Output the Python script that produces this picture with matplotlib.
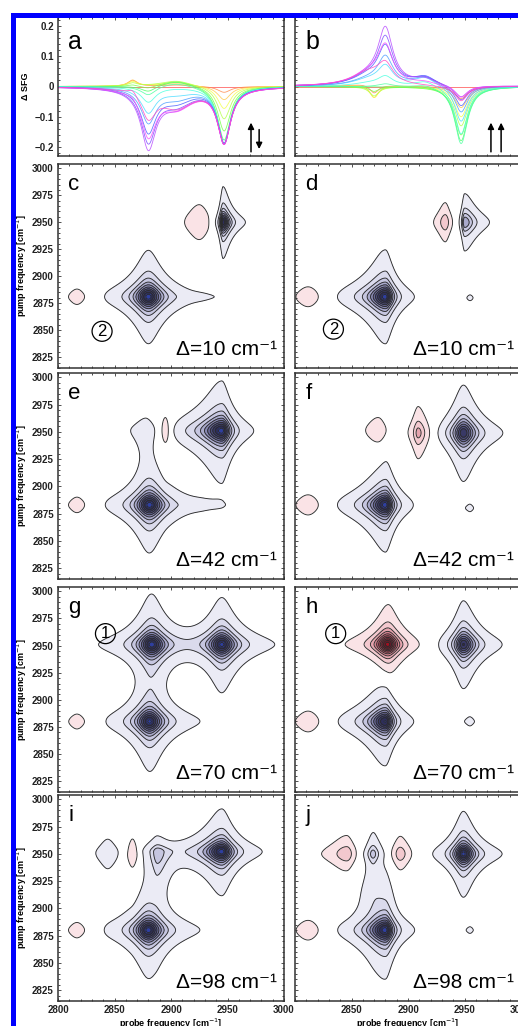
import numpy as np
import matplotlib.pyplot as plt
from matplotlib.patches import Rectangle

plt.rcParams['font.family'] = ['Liberation Sans', 'DejaVu Sans']

# ---------------- top panels: Delta SFG spectra (one curve per pump setting) ----------------
n_curves = 16
# panel a (antiparallel): amplitudes of the spectral components of each curve
a_dip1 = [0, 0, 0, 0, 0, -0.01, -0.02, -0.03, -0.05, -0.08, -0.11, -0.14, -0.17, -0.19, -0.15, -0.09]
a_dip2 = [0, -0.02, -0.045, -0.075, -0.11, -0.15, -0.18, -0.19, -0.19, -0.185, -0.18, -0.18, -0.18, -0.18, -0.18, -0.18]
a_broad = [0, 0.005, 0.01, 0.015, 0.02, 0.02, 0.02, 0.015, 0.0, -0.02, -0.035, -0.045, -0.055, -0.06, -0.065, -0.065]
a_bump = [0, 0.02, 0.02, 0.015, 0.01, 0.005, 0, 0, 0, 0, 0, 0, 0, 0, 0.01, 0.02]
# panel b (parallel)
b_peak1 = [0, 0, 0, 0, 0, 0, 0, 0.01, 0.03, 0.06, 0.09, 0.12, 0.15, 0.18, 0.12, 0.06]
b_dip0 = [0, -0.03, -0.045, -0.04, -0.03, -0.015, 0, 0, 0, 0, 0, 0, 0, 0, 0, 0]
b_broad1 = [0, 0.01, 0.01, 0.005, 0, 0, 0, 0, 0.01, 0.02, 0.02, 0.03, 0.03, 0.03, 0.04, 0.045]
b_broad2 = [0, 0, 0, 0, 0, 0, 0.005, 0.01, 0.02, 0.03, 0.03, 0.03, 0.025, 0.02, 0.01, 0.0]
b_dip2 = [0, -0.04, -0.07, -0.1, -0.13, -0.16, -0.18, -0.19, -0.16, -0.12, -0.09, -0.07, -0.05, -0.04, -0.04, -0.05]

# ---------------- 2D panels: peaks (probe, pump, amplitude, w_left, w_right, w_down, w_up) ----------------
peaks_c = [(2880, 2881, 1.0, 10, 10, 10, 10), (2925, 2881, 0.05, 12, 12, 3, 3),
           (2946, 2950, 0.95, 2.2, 5, 8, 8), (2925, 2950, -0.15, 10, 9, 12, 12),
           (2817, 2881, -0.135, 8, 8, 7, 7)]
peaks_d = [(2880, 2881, 1.0, 12, 6, 10, 10), (2950, 2950, 0.45, 2.1, 8, 9.5, 9.5),
           (2933, 2950, -0.24, 5.5, 4, 9.5, 9.5), (2812, 2881, -0.135, 12, 12, 9, 9),
           (2955, 2880, 0.07, 3, 3, 3, 3)]
peaks_e = [(2881, 2883, 1.0, 10, 10, 10, 10), (2925, 2883, 0.05, 12, 12, 3, 3),
           (2877, 2952, 0.06, 9, 6, 20, 9), (2945, 2951, 1.0, 14, 6.5, 10.5, 10.5),
           (2895, 2951, -0.18, 5, 5, 12, 12), (2817, 2883, -0.135, 8, 8, 7, 7)]
peaks_f = [(2880, 2883, 1.0, 12, 6, 10, 10), (2949, 2949, 0.85, 8, 9, 11, 11),
           (2909, 2949, -0.32, 4.5, 7, 11, 11), (2874, 2951, -0.14, 10, 7, 11, 11),
           (2812, 2883, -0.135, 12, 12, 9, 9), (2955, 2880, 0.07, 3, 3, 3, 3)]
peaks_g = [(2881, 2880, 1.0, 10, 10, 10, 10), (2883, 2951, 1.0, 10, 10, 10, 10),
           (2945, 2951, 1.0, 10, 10, 10, 10), (2817, 2880, -0.135, 8, 8, 7, 7)]
peaks_h = [(2882, 2951, -1.0, 9, 8, 8, 9), (2949, 2951, 0.85, 7, 9, 10, 10),
           (2880, 2880, 0.95, 12, 6, 10, 10), (2812, 2880, -0.135, 12, 12, 9, 9),
           (2955, 2880, 0.08, 3.5, 3.5, 3.5, 3.5)]
peaks_i = [(2945, 2952, 1.0, 12, 8, 9, 9), (2888, 2952, 0.3, 5, 8, 18, 5),
           (2880, 2880, 1.0, 10, 10, 10, 10), (2844, 2950, 0.13, 7, 7, 10, 10),
           (2866, 2950, -0.2, 4.5, 4.5, 10, 10), (2817, 2880, -0.135, 8, 8, 7, 7)]
peaks_j = [(2846, 2950, -0.25, 12, 6, 9, 9), (2869, 2950, 0.3, 4.5, 4.5, 7, 7),
           (2870, 2915, 0.08, 10, 10, 25, 25),
           (2893, 2950, -0.25, 6, 7, 9, 9), (2949, 2950, 1.0, 7, 8, 9, 9),
           (2880, 2880, 1.0, 12, 6, 10, 10), (2812, 2880, -0.135, 12, 12, 9, 9),
           (2955, 2880, 0.07, 3, 3, 3, 3)]
panel_peaks = [peaks_c, peaks_d, peaks_e, peaks_f, peaks_g, peaks_h, peaks_i, peaks_j]
panel_letters = ['c', 'd', 'e', 'f', 'g', 'h', 'i', 'j']
deltas = [10, 10, 42, 42, 70, 70, 98, 98]
circle_marks = {'c': ('2', 2839, 2849), 'd': ('2', 2834, 2851), 'g': ('1', 2842, 2961), 'h': ('1', 2836, 2961)}

pump_ticks = [2825, 2850, 2875, 2900, 2925, 2950, 2975, 3000]
probe_ticks = [2800, 2850, 2900, 2950, 3000]
sfg_ticks = [-0.2, -0.1, 0, 0.1, 0.2]
sfg_ticklabels = ['\u22120.2', '\u22120.1', '0', '0.1', '0.2']


def lor(u, c, w):
    return 1.0 / (1.0 + ((u - c) / w) ** 2)


def split_lor(u, c, wl, wr):
    w = np.where(u < c, wl, wr)
    return 1.0 / (1.0 + ((u - c) / w) ** 2)


W, H = 518, 1026
fig = plt.figure(figsize=(W / 100, H / 100), dpi=100)


def add_ax(left, top, width, height):
    return fig.add_axes([left / W, 1 - (top + height) / H, width / W, height / H])


frame_col = '#333333'
tick_font = dict(fontsize=7, fontweight='bold')


def style_frame(ax):
    for s in ax.spines.values():
        s.set_linewidth(1.1)
        s.set_color(frame_col)
    ax.tick_params(direction='in', length=2.5, width=0.6, top=True, right=True, pad=3,
                   colors=frame_col, labelcolor='#222222')
    ax.tick_params(which='minor', direction='in', length=1.5, width=0.5, top=True, right=True)


# ---------------- top row ----------------
xs = np.linspace(2800, 3000, 600)
hues = plt.cm.hsv(np.linspace(0, 0.9, n_curves))[:, :3] * 0.7 + 0.3
col_left, col_right, col_w = 58, 295, 226

ax_a = add_ax(col_left, 17, col_w, 139)
ax_b = add_ax(col_right, 17, col_w, 139)
for i in range(n_curves):
    ya = (a_dip1[i] * lor(xs, 2880, 8) + a_dip2[i] * lor(xs, 2947, 7)
          + a_broad[i] * lor(xs, 2905, 18) + a_bump[i] * lor(xs, 2866, 5))
    yb = (b_peak1[i] * lor(xs, 2880, 8) + b_dip0[i] * lor(xs, 2870, 5)
          + b_broad1[i] * lor(xs, 2865, 18) + b_broad2[i] * lor(xs, 2915, 12)
          + b_dip2[i] * lor(xs, 2947, 7))
    ax_a.plot(xs, ya, color=hues[i], lw=0.6, alpha=0.85)
    ax_b.plot(xs, yb, color=hues[i], lw=0.6, alpha=0.85)

for ax, letter in [(ax_a, 'a'), (ax_b, 'b')]:
    ax.set_xlim(2800, 3000)
    ax.set_ylim(-0.23, 0.23)
    ax.set_xticks(probe_ticks)
    ax.set_xticklabels([])
    ax.set_yticks(sfg_ticks)
    ax.minorticks_on()
    style_frame(ax)
    ax.text(0.045, 0.82, letter, transform=ax.transAxes, fontsize=18, va='center', ha='left')
ax_a.set_yticklabels(sfg_ticklabels, **tick_font)
ax_b.set_yticklabels([])
ax_a.set_ylabel('\u0394 SFG', fontsize=6.5, fontweight='bold', labelpad=3)

arrow = dict(arrowstyle='-|>', lw=1.1, color='k', mutation_scale=9, shrinkA=0, shrinkB=0)
ax_a.annotate('', xy=(0.854, 0.24), xytext=(0.854, 0.03), xycoords='axes fraction', arrowprops=arrow)
ax_a.annotate('', xy=(0.89, 0.05), xytext=(0.89, 0.19), xycoords='axes fraction', arrowprops=arrow)
ax_b.annotate('', xy=(0.867, 0.24), xytext=(0.867, 0.03), xycoords='axes fraction', arrowprops=arrow)
ax_b.annotate('', xy=(0.912, 0.24), xytext=(0.912, 0.03), xycoords='axes fraction', arrowprops=arrow)

# ---------------- 2D panels ----------------
gx = np.linspace(2795, 3005, 320)
gy = np.linspace(2810, 3010, 320)
PX, PY = np.meshgrid(gx, gy)

lv = np.arange(0.05, 1.0, 0.1)
fill_levels = [-1.2] + list(-lv[::-1]) + list(lv) + [1.2]
pos_cols = ['#ebebf5', '#dadaec', '#c6c6e0', '#a9a9cb', '#8888b2', '#666695',
            '#4b4b7b', '#393966', '#2e2e5a', '#2f3f9f']
neg_cols = ['#fae3e6', '#f3c8ce', '#e6a4ae', '#d47f8d', '#bd5b6c', '#a23f50',
            '#8c2c3d', '#7a2031', '#6e1829', '#a01020']
fill_cols = neg_cols[::-1] + ['white'] + pos_cols
line_levels = list(-lv[::-1]) + list(lv)

row_tops = [164, 373, 587, 795]
row_heights = [204, 206, 205, 206]

for k, peaks in enumerate(panel_peaks):
    row, col = divmod(k, 2)
    left = col_left if col == 0 else col_right
    ax = add_ax(left, row_tops[row], col_w, row_heights[row])
    Z = np.zeros_like(PX)
    for (x0, y0, amp, wl, wr, wd, wu) in peaks:
        Z += amp * split_lor(PX, x0, wl, wr) * split_lor(PY, y0, wd, wu)
    Z = Z / np.abs(Z).max()
    ax.contourf(PX, PY, Z, levels=fill_levels, colors=fill_cols)
    ax.contour(PX, PY, Z, levels=line_levels, colors='#2b2b2b', linewidths=0.65,
               linestyles='solid')
    ax.set_xlim(2800, 3000)
    ax.set_ylim(2815, 3004)
    ax.set_xticks(probe_ticks)
    ax.set_yticks(pump_ticks)
    ax.minorticks_on()
    style_frame(ax)
    letter = panel_letters[k]
    ax.text(0.045, 0.9, letter, transform=ax.transAxes, fontsize=16, va='center', ha='left')
    ax.text(0.97, 0.063, '\u0394=%d cm\u207b\u00b9' % deltas[k], transform=ax.transAxes,
            fontsize=15, ha='right', va='baseline')
    if letter in circle_marks:
        d, cx, cy = circle_marks[letter]
        ax.text(cx, cy, d, fontsize=12, ha='center', va='center',
                bbox=dict(boxstyle='circle,pad=0.15', fc='none', ec='k', lw=0.9))
    if col == 0:
        ax.set_yticklabels([str(t) for t in pump_ticks], **tick_font)
        ax.set_ylabel('pump frequency [cm$^{-1}$]', fontsize=6.5, fontweight='bold', labelpad=2)
    else:
        ax.set_yticklabels([])
    if row == 3:
        if col == 0:
            ax.set_xticklabels([str(t) for t in probe_ticks], **tick_font)
        else:
            ax.set_xticklabels([''] + [str(t) for t in probe_ticks[1:]], **tick_font)
        ax.set_xlabel('probe frequency [cm$^{-1}$]', fontsize=6.5, fontweight='bold', labelpad=1)
    else:
        ax.set_xticklabels([])

# blue frame around the figure
fig.add_artist(Rectangle((12.5 / W, -0.05), 1.2, 1 - 15 / H + 0.05, transform=fig.transFigure,
                         fill=False, ec='#0000ff', lw=3.6, zorder=10))

fig.savefig('out.png', dpi=100)
